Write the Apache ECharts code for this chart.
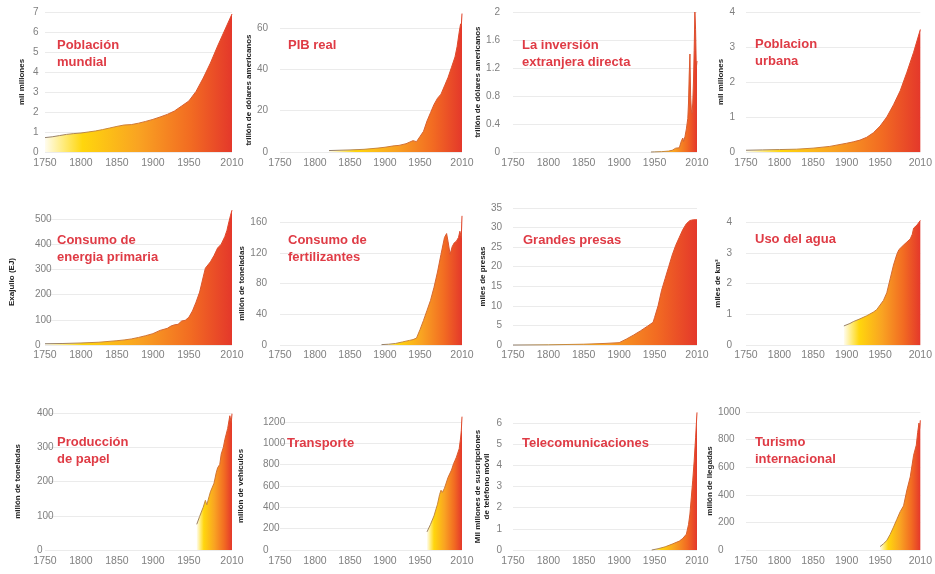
<!DOCTYPE html>
<html><head><meta charset="utf-8">
<script src="https://cdn.jsdelivr.net/npm/echarts@6/dist/echarts.min.js"></script>
<style>html,body{margin:0;padding:0;background:#fff}#c{width:935px;height:574px}</style>
</head><body><div id="c"></div>
<script>
// ---- tick labels ----
const xTickYears = [1750, 1800, 1850, 1900, 1950, 2010];
const yMax  = [7, 60, 2, 4, 500, 160, 35, 4, 400, 1200, 6, 1000];
const yStep = [1, 20, 0.4, 1, 100, 40, 5, 1, 100, 200, 1, 200];

// ---- titles & axis names ----
const titles = ['Población\nmundial', 'PIB real', 'La inversión\nextranjera directa', 'Poblacion\nurbana',
  'Consumo de\nenergia primaria', 'Consumo de\nfertilizantes', 'Grandes presas', 'Uso del agua',
  'Producción\nde papel', 'Transporte', 'Telecomunicaciones', 'Turismo\ninternacional'];
const yNames = ['mil millones', 'trillón de dólares americanos', 'trillón de dólares americanos', 'mil millones',
  'Exajulio (EJ)', 'millón de toneladas', 'miles de presas', 'miles de km³',
  'millón de toneladas', 'millón de vehículos', 'Mil millones de suscripciones\nde teléfono móvil', 'millón de llegadas'];

// ---- data ----
const popYears  = [1750,1760,1770,1780,1790,1800,1810,1820,1830,1840,1850,1860,1870,1880,1890,1900,1910,1920,1930,1940,1950,1960,1970,1980,1990,2000,2010];
const popValues = [0.72,0.76,0.82,0.88,0.92,0.95,1.0,1.05,1.12,1.2,1.28,1.35,1.37,1.44,1.53,1.63,1.75,1.88,2.05,2.3,2.55,3.03,3.7,4.45,5.3,6.1,6.9];

const gdpYears  = [1820,1850,1870,1890,1900,1913,1920,1930,1940,1945,1950,1955,1960,1965,1970,1975,1980,1985,1990,1995,2000,2003,2006,2008,2009,2010];
const gdpValues = [0.7,1.0,1.3,1.9,2.3,3.0,3.2,4.0,5.5,5.0,7.5,10,15,19,23,26,28,32,36,41,46,51,58,62,61,67];

const fdiYears  = [1945,1950,1960,1970,1975,1980,1985,1988,1990,1991,1993,1995,1997,1998,1999,2000,2001,2002,2003,2004,2005,2006,2007,2008,2009,2010];
const fdiValues = [0,0.002,0.005,0.013,0.025,0.055,0.06,0.16,0.2,0.15,0.22,0.33,0.48,0.7,1.1,1.4,0.8,0.6,0.55,0.7,1.0,1.45,2.0,1.75,1.2,1.3];

const urbYears  = [1750,1775,1800,1825,1850,1875,1900,1910,1920,1930,1940,1950,1960,1970,1980,1990,2000,2010];
const urbValues = [0.05,0.06,0.07,0.08,0.11,0.16,0.25,0.29,0.34,0.42,0.55,0.74,1.0,1.35,1.75,2.28,2.85,3.5];

const enYears  = [1750,1775,1800,1825,1850,1860,1870,1880,1890,1900,1910,1920,1925,1930,1935,1940,1945,1950,1955,1960,1965,1970,1973,1975,1980,1985,1990,1995,2000,2003,2005,2008,2010];
const enValues = [5,6,8,11,17,20,24,30,37,45,58,66,75,80,82,95,98,110,135,170,210,270,305,300,330,355,385,400,430,455,480,515,535];

const ferYears  = [1895,1905,1915,1925,1935,1940,1945,1950,1955,1960,1965,1970,1975,1980,1985,1988,1990,1993,1996,1999,2002,2005,2007,2008,2009,2010];
const ferValues = [0.5,1,2,4,6,7,9,20,32,45,58,75,95,118,140,145,135,118,128,133,135,140,148,150,140,168];

const damYears  = [1750,1800,1850,1880,1900,1910,1920,1930,1940,1948,1950,1955,1960,1965,1970,1975,1980,1985,1990,1995,2000,2005,2010];
const damValues = [0,0.05,0.2,0.4,0.6,1.5,2.5,3.6,4.8,5.8,7,10,14,17,20,23,25.5,27.5,29.5,31,31.8,32,32];

const watYears  = [1896,1905,1910,1920,1930,1940,1945,1950,1955,1960,1965,1970,1975,1978,1980,1985,1990,1995,1998,2000,2005,2010];
const watValues = [0.62,0.7,0.76,0.85,0.95,1.07,1.15,1.3,1.45,1.7,2.15,2.6,2.95,3.1,3.05,3.25,3.35,3.45,3.6,3.8,3.9,4.05];

const papYears  = [1961,1965,1970,1973,1974,1975,1978,1980,1982,1985,1988,1990,1993,1995,1998,2000,2002,2004,2006,2007,2008,2009,2010];
const papValues = [75,98,125,145,150,132,155,170,168,195,225,240,250,280,300,322,325,355,380,392,390,372,398];

const traYears  = [1960,1965,1970,1975,1978,1980,1982,1985,1990,1995,1998,2000,2002,2004,2006,2008,2009,2010];
const traValues = [170,240,320,430,520,560,540,580,680,750,810,840,870,860,950,1050,1120,1250];

const telYears  = [1946,1955,1965,1975,1985,1990,1995,1998,2000,2002,2004,2006,2008,2010];
const telValues = [0,0.06,0.15,0.28,0.42,0.55,0.75,1.2,1.7,2.5,3.3,4.2,5.3,6.5];

const turYears  = [1950,1955,1960,1965,1970,1975,1980,1985,1990,1995,2000,2002,2004,2006,2008,2009,2010];
const turValues = [25,45,69,113,166,222,278,320,435,530,687,700,760,850,920,880,940];

const seriesYears  = [popYears, gdpYears, fdiYears, urbYears, enYears, ferYears, damYears, watYears, papYears, traYears, telYears, turYears];
const seriesValues = [popValues, gdpValues, fdiValues, urbValues, enValues, ferValues, damValues, watValues, papValues, traValues, telValues, turValues];

// ---- layout ----
const colLeft  = [45, 280, 513, 746];
const colWidth = [187, 182, 184, 184];
const rowBottom = [152, 345, 550];
const panelTop = [12, 28, 12, 12, 219, 222, 208, 222, 413, 422, 423, 412];
const labelAlign  = ['left','right','right','right','left','right','right','right','left','left','right','left'];
const labelMargin = [12, 12, 13, 11, 10, 13, 11, 14, 8, 17, 11, 28];
const nameGap = [19, 26, 26, 18, 29, 26, 26, 17, 23, 35, 22, 26];
const titleLeft = [57, 288, 522, 755, 57, 288, 523, 755, 57, 287, 522, 755];
const titleTop  = [37, 37, 37, 36, 232, 232, 232, 231, 434, 435, 435, 434];
const xLabelMargin = [6, 5, 6];

const chart = echarts.init(document.getElementById('c'), null, {renderer: 'canvas'});
const grids = [], xAxes = [], yAxes = [], series = [], titleArr = [];
const tickFont = 'Liberation Sans, Arial, sans-serif';
const plain = v => String(Math.round(v * 100) / 100);

for (let i = 0; i < 12; i++) {
  const r = Math.floor(i / 4), c = i % 4;
  grids.push({left: colLeft[c], width: colWidth[c], top: panelTop[i], height: rowBottom[r] - panelTop[i]});
  xAxes.push({
    type: 'value', gridIndex: i, min: 1750, max: 2010,
    axisLine: {show: false}, axisTick: {show: false}, splitLine: {show: false},
    axisLabel: {customValues: xTickYears, formatter: plain, color: '#808080', fontSize: 10.5, fontFamily: tickFont,
      margin: xLabelMargin[r], hideOverlap: false, showMinLabel: true, showMaxLabel: true}
  });
  yAxes.push({
    type: 'value', gridIndex: i, min: 0, max: yMax[i], interval: yStep[i],
    axisLine: {show: false}, axisTick: {show: false},
    splitLine: {show: true, lineStyle: {color: '#ebebeb', width: 1}},
    axisLabel: {formatter: plain, color: '#808080', fontSize: 10, fontFamily: tickFont, align: labelAlign[i], margin: labelMargin[i]},
    name: yNames[i], nameLocation: 'middle', nameRotate: 90, nameGap: nameGap[i],
    nameTextStyle: {color: '#222', fontSize: 8, fontWeight: 'bold', fontFamily: 'Liberation Sans, Arial, sans-serif', lineHeight: 9}
  });
  const pts = seriesYears[i].map((y, k) => [y, seriesValues[i][k]]);
  series.push({
    type: 'line', xAxisIndex: i, yAxisIndex: i, data: pts, clip: false,
    symbol: 'none', showSymbol: false, smooth: false, silent: true,
    lineStyle: {width: 1, color: new echarts.graphic.LinearGradient(0, 0, 1, 0, [
      {offset: 0, color: '#8d7f72'}, {offset: 0.3, color: '#c98a3a'}, {offset: 1, color: '#e0432a'}])},
    areaStyle: {opacity: 1, color: new echarts.graphic.LinearGradient(0, 0, 1, 0, [
      {offset: 0, color: '#fffcee'}, {offset: 0.1, color: '#ffeb7a'}, {offset: 0.2, color: '#ffd60d'},
      {offset: 0.5, color: '#f9a322'}, {offset: 0.78, color: '#f26b22'}, {offset: 1, color: '#e4382b'}])}
  });
  titleArr.push({
    text: titles[i], left: titleLeft[i], top: titleTop[i], padding: 0,
    textStyle: {color: '#df3b45', fontSize: 13, fontWeight: 'bold', fontFamily: 'Liberation Sans, Arial, sans-serif', lineHeight: 17}
  });
}

chart.setOption({
  animation: false,
  backgroundColor: '#ffffff',
  title: titleArr,
  grid: grids, xAxis: xAxes, yAxis: yAxes, series: series
});
</script></body></html>
